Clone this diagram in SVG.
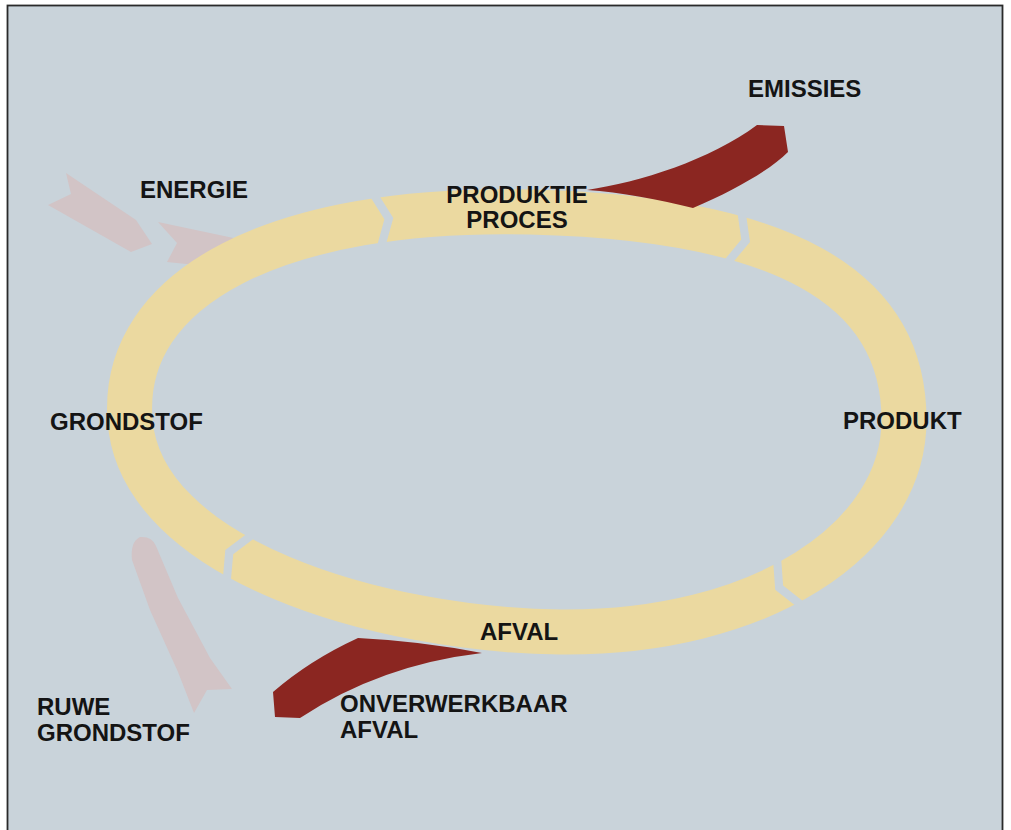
<svg xmlns="http://www.w3.org/2000/svg" width="1011" height="830" viewBox="0 0 1011 830">
<style>
.lbl{font-family:"Liberation Sans",Arial,sans-serif;font-weight:bold;font-size:24px;fill:#141414}
.ring{fill:none;stroke:#ebd9a0;stroke-width:45}
.red{fill:#8b2621}
.ghost{fill:#d2c4c6}
</style>
<defs>
<mask id="gaps" maskUnits="userSpaceOnUse" x="0" y="0" width="1011" height="830">
<rect x="0" y="0" width="1011" height="830" fill="#fff"/>
<polygon fill="#000" points="375.1,252.9 384.4,219.2 365.7,189.6 374.6,188.3 393.3,217.9 384.0,251.6"/>
<polygon fill="#000" points="719.0,266.5 741.3,239.5 736.3,204.8 745.0,207.3 750.0,241.9 727.6,268.9"/>
<polygon fill="#000" points="780.6,550.7 783.1,585.6 810.7,607.2 802.8,611.4 775.2,589.8 772.7,554.9"/>
<polygon fill="#000" points="261.1,533.2 233.2,554.3 230.1,589.2 222.3,584.9 225.3,550.0 253.2,528.9"/>
</mask>
</defs>
<rect x="0" y="0" width="1011" height="830" fill="#ffffff"/>
<rect x="7.5" y="5.5" width="995" height="830" fill="#c9d3da" stroke="#2a2a2a" stroke-width="1.8"/>
<g id="connectors">
<path id="energy-arrow-1" class="ghost" d="M 66 173 L 136 220 L 152 244 L 131 252 L 48 205 L 71 194 Z"/>
<path id="energy-arrow-2" class="ghost" d="M 158 222 L 262 244 L 262 272 L 167 262 L 177 243 Z"/>
<path id="raw-arrow" class="ghost" d="M 140 537 Q 152 536 156 546 L 178 598 L 210 658 L 232 689 L 207 690 L 194 713 L 178 672 L 150 610 L 132 560 Q 130 542 140 537 Z"/>
<path id="cycle" class="ring" mask="url(#gaps)" d="M 530 212 C 780 218 904 285 904 420 C 904 540 760 634 560 632 C 380 630 140 560 130 420 C 120 286 280 206 530 212 Z"/>
<path id="emission-arrow" class="red" d="M 587 190 C 640 182 710 160 757 125 L 784 126 L 788 152 C 770 170 735 190 693 208 C 660 200 620 192 587 190 Z"/>
<path id="waste-arrow" class="red" d="M 482 653 Q 420 641 358 638 Q 310 660 273 692 L 275 717 L 300 718 Q 380 665 482 653 Z"/>
</g>
<g id="node-energie"><text class="lbl" x="140" y="198">ENERGIE</text></g>
<g id="node-emissies"><text class="lbl" x="748" y="97">EMISSIES</text></g>
<g id="node-produktieproces"><text class="lbl" x="517" y="203" text-anchor="middle">PRODUKTIE</text><text class="lbl" x="517" y="228" text-anchor="middle">PROCES</text></g>
<g id="node-grondstof"><text class="lbl" x="50" y="430">GRONDSTOF</text></g>
<g id="node-produkt"><text class="lbl" x="843" y="429">PRODUKT</text></g>
<g id="node-afval"><text class="lbl" x="480" y="640">AFVAL</text></g>
<g id="node-onverwerkbaar"><text class="lbl" x="340" y="712">ONVERWERKBAAR</text><text class="lbl" x="340" y="738">AFVAL</text></g>
<g id="node-ruwe"><text class="lbl" x="37" y="715">RUWE</text><text class="lbl" x="37" y="741">GRONDSTOF</text></g>
</svg>
